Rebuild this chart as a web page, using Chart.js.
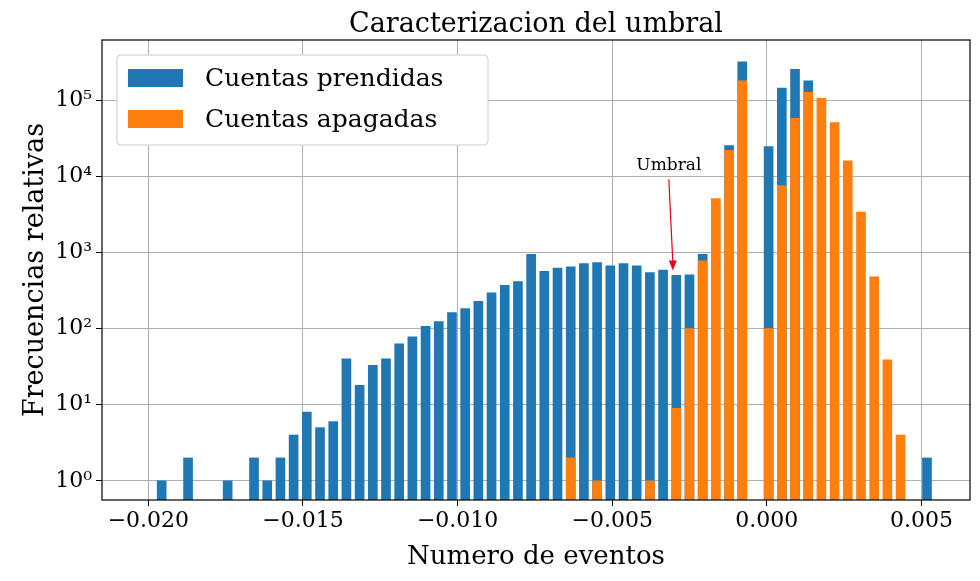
<!DOCTYPE html>
<html lang="es">
<head>
  <meta charset="UTF-8" />
  <title>Caracterizacion del umbral</title>
  <script src="https://cdn.jsdelivr.net/npm/chart.js"></script>
  <style>
    body { margin: 0; background: #fff; }
    #wrap { width: 980px; height: 581px; }
  </style>
</head>
<body>
  <div id="wrap"><canvas id="chart"></canvas></div>
  <script>
    // Histogram bins (centers)
    const binStart = -0.01957;
    const binWidth = 0.0004267;
    const binCount = 59;
    const binCenters = Array.from({ length: binCount }, (_, i) => binStart + i * binWidth);

    const prendidas = [1, null, 2, null, null, 1, null, 2, 1, 2,
      4, 8, 5, 6, 40, 18, 33, 40, 63, 78,
      107, 124, 162, 183, 229, 296, 370, 415, 950, 565,
      625, 650, 715, 740, 670, 715, 670, 545, 590, 500,
      510, 950, null, 25500, 320000, null, 24700, 145000, 255000, 180000,
      null, null, null, null, null, null, null, null, 2];

    const apagadas = [null, null, null, null, null, null, null, null, null, null,
      null, null, null, null, null, null, null, null, null, null,
      null, null, null, null, null, null, null, null, null, null,
      null, 2, null, 1, null, null, null, 1, null, 9,
      100, 780, 5100, 22000, 180000, null, 100, 7600, 58000, 127000,
      106000, 51000, 16000, 3400, 480, 39, 4, null, null];

    const xTicks = [-0.020, -0.015, -0.010, -0.005, 0.000, 0.005];
    const yTicks = [1, 10, 100, 1000, 10000, 100000];
    const sup = ['⁰', '¹', '²', '³', '⁴', '⁵', '⁶'];

    const serif = "'DejaVu Serif', serif";
    const blue = '#1f77b4', orange = '#ff7f0e';

    const toPoints = arr => arr.map((v, i) => ({ x: binCenters[i], y: v })).filter(p => p.y !== null);

    const extras = {
      id: 'extras',
      afterDraw(chart) {
        const { ctx, chartArea: a, scales: { x, y } } = chart;
        ctx.save();
        // axes box
        ctx.strokeStyle = '#000';
        ctx.lineWidth = 1.2;
        ctx.strokeRect(a.left, a.top, a.right - a.left, a.bottom - a.top);
        // title
        ctx.fillStyle = '#000';
        ctx.font = '27px ' + serif;
        ctx.textAlign = 'center';
        ctx.textBaseline = 'alphabetic';
        ctx.fillText('Caracterizacion del umbral', (a.left + a.right) / 2, 32);
        // annotation
        const tx = x.getPixelForValue(-0.00317), ty = y.getPixelForValue(12000);
        const px = x.getPixelForValue(-0.00304), py = y.getPixelForValue(580);
        ctx.font = '17px ' + serif;
        ctx.fillText('Umbral', tx, ty);
        ctx.strokeStyle = '#e8001c';
        ctx.fillStyle = '#e8001c';
        ctx.lineWidth = 1.2;
        ctx.beginPath();
        ctx.moveTo(tx, ty + 9);
        ctx.lineTo(px, py - 8);
        ctx.stroke();
        ctx.beginPath();
        ctx.moveTo(px, py);
        ctx.lineTo(px - 4, py - 10);
        ctx.lineTo(px + 4, py - 10);
        ctx.closePath();
        ctx.fill();
        // legend
        const lx = a.left + 15, ly = a.top + 15;
        ctx.fillStyle = '#fff';
        ctx.strokeStyle = '#ccc';
        ctx.lineWidth = 1;
        ctx.beginPath();
        ctx.roundRect(lx, ly, 371, 90, 4);
        ctx.fill();
        ctx.stroke();
        ctx.font = '25px ' + serif;
        ctx.textAlign = 'left';
        ctx.textBaseline = 'middle';
        chart.data.datasets.forEach((ds, i) => {
          const cy = ly + 23 + i * 41;
          ctx.fillStyle = ds.backgroundColor;
          ctx.fillRect(lx + 11, cy - 9, 55, 18);
          ctx.fillStyle = '#000';
          ctx.fillText(ds.label, lx + 88, cy + 1);
        });
        ctx.restore();
      }
    };

    new Chart(document.getElementById('chart'), {
      type: 'bar',
      data: {
        datasets: [
          { label: 'Cuentas prendidas', data: toPoints(prendidas), backgroundColor: blue, order: 2 },
          { label: 'Cuentas apagadas', data: toPoints(apagadas), backgroundColor: orange, order: 1 }
        ]
      },
      options: {
        responsive: true,
        maintainAspectRatio: false,
        animation: false,
        layout: { padding: { top: 40, right: 10 } },
        datasets: { bar: { grouped: false, barThickness: 9, base: 0.56 } },
        plugins: { legend: { display: false }, tooltip: { enabled: false } },
        scales: {
          x: {
            type: 'linear',
            offset: false,
            min: -0.0215,
            max: 0.00657,
            afterBuildTicks: s => { s.ticks = xTicks.map(v => ({ value: v })); },
            afterFit: s => { s.height = 81; },
            ticks: {
              color: '#000',
              font: { family: serif, size: 22 },
              padding: 2,
              callback: v => (v < 0 ? '−' : '') + Math.abs(v).toFixed(3)
            },
            grid: { offset: false, color: '#b0b0b0', lineWidth: 1, tickLength: 6, tickColor: '#000' },
            border: { display: false },
            title: { display: true, text: 'Numero de eventos', color: '#000', font: { family: serif, size: 26 }, padding: { top: 0, bottom: 8 } }
          },
          y: {
            type: 'logarithmic',
            min: 0.56,
            max: 620000,
            afterBuildTicks: s => { s.ticks = yTicks.map(v => ({ value: v })); },
            afterFit: s => { s.width = 102; },
            ticks: {
              color: '#000',
              font: { family: serif, size: 22 },
              padding: 4,
              callback: v => '10' + sup[Math.round(Math.log10(v))]
            },
            grid: { color: '#b0b0b0', lineWidth: 1, tickLength: 6, tickColor: '#000' },
            border: { display: false },
            title: { display: true, text: 'Frecuencias relativas', color: '#000', font: { family: serif, size: 27 }, padding: { top: 20, bottom: 0 } }
          }
        }
      },
      plugins: [extras]
    });
  </script>
</body>
</html>
